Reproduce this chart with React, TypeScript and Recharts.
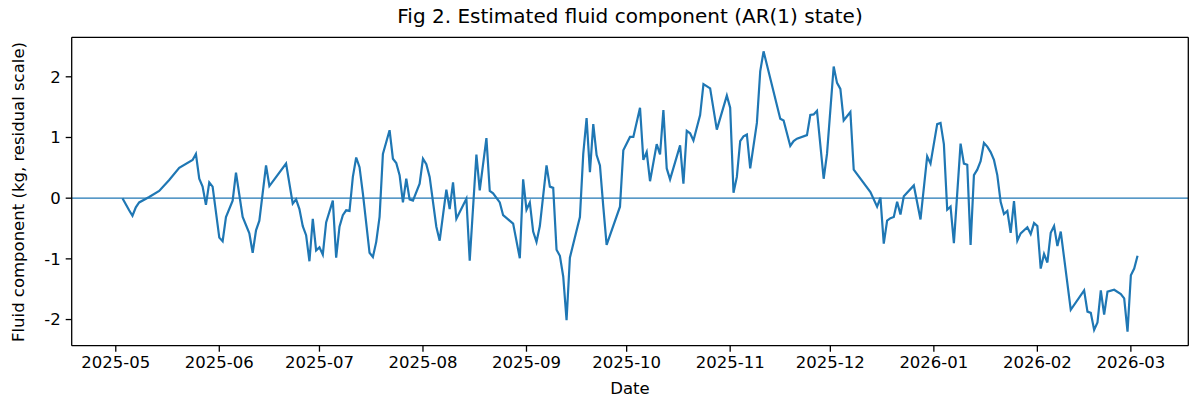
import React from 'react'
import { LineChart, Line, XAxis, YAxis, ReferenceLine } from 'recharts'

const dates = [
  '2025-05-03', '2025-05-05', '2025-05-06', '2025-05-07', '2025-05-08', '2025-05-11', '2025-05-14', '2025-05-17',
  '2025-05-20', '2025-05-24', '2025-05-25', '2025-05-26', '2025-05-27', '2025-05-28', '2025-05-29', '2025-05-30',
  '2025-06-01', '2025-06-02', '2025-06-03', '2025-06-05', '2025-06-06', '2025-06-08', '2025-06-10', '2025-06-11',
  '2025-06-12', '2025-06-13', '2025-06-15', '2025-06-16', '2025-06-21', '2025-06-23', '2025-06-24', '2025-06-25',
  '2025-06-26', '2025-06-27', '2025-06-28', '2025-06-29', '2025-06-30', '2025-07-01', '2025-07-02', '2025-07-03',
  '2025-07-05', '2025-07-06', '2025-07-07', '2025-07-08', '2025-07-09', '2025-07-10', '2025-07-11', '2025-07-12',
  '2025-07-13', '2025-07-14', '2025-07-16', '2025-07-17', '2025-07-18', '2025-07-19', '2025-07-20', '2025-07-22',
  '2025-07-23', '2025-07-24', '2025-07-25', '2025-07-26', '2025-07-27', '2025-07-28', '2025-07-29', '2025-07-31',
  '2025-08-01', '2025-08-02', '2025-08-03', '2025-08-05', '2025-08-06', '2025-08-08', '2025-08-09', '2025-08-10',
  '2025-08-11', '2025-08-14', '2025-08-15', '2025-08-17', '2025-08-18', '2025-08-20', '2025-08-21', '2025-08-22',
  '2025-08-24', '2025-08-25', '2025-08-28', '2025-08-30', '2025-08-31', '2025-09-01', '2025-09-02', '2025-09-03',
  '2025-09-04', '2025-09-05', '2025-09-07', '2025-09-08', '2025-09-09', '2025-09-10', '2025-09-11', '2025-09-12',
  '2025-09-13', '2025-09-14', '2025-09-17', '2025-09-18', '2025-09-19', '2025-09-20', '2025-09-21', '2025-09-22',
  '2025-09-23', '2025-09-24', '2025-09-25', '2025-09-29', '2025-09-30', '2025-10-02', '2025-10-03', '2025-10-05',
  '2025-10-06', '2025-10-07', '2025-10-08', '2025-10-10', '2025-10-11', '2025-10-12', '2025-10-13', '2025-10-14',
  '2025-10-17', '2025-10-18', '2025-10-19', '2025-10-20', '2025-10-21', '2025-10-23', '2025-10-24', '2025-10-26',
  '2025-10-28', '2025-10-31', '2025-11-01', '2025-11-02', '2025-11-03', '2025-11-04', '2025-11-05', '2025-11-06',
  '2025-11-07', '2025-11-09', '2025-11-10', '2025-11-11', '2025-11-16', '2025-11-17', '2025-11-19', '2025-11-20',
  '2025-11-21', '2025-11-24', '2025-11-25', '2025-11-26', '2025-11-27', '2025-11-29', '2025-11-30', '2025-12-02',
  '2025-12-03', '2025-12-04', '2025-12-05', '2025-12-07', '2025-12-08', '2025-12-13', '2025-12-15', '2025-12-16',
  '2025-12-17', '2025-12-18', '2025-12-19', '2025-12-20', '2025-12-21', '2025-12-22', '2025-12-23', '2025-12-26',
  '2025-12-28', '2025-12-30', '2025-12-31', '2026-01-02', '2026-01-03', '2026-01-04', '2026-01-05', '2026-01-06',
  '2026-01-07', '2026-01-09', '2026-01-10', '2026-01-11', '2026-01-12', '2026-01-13', '2026-01-14', '2026-01-15',
  '2026-01-16', '2026-01-17', '2026-01-18', '2026-01-19', '2026-01-20', '2026-01-21', '2026-01-22', '2026-01-23',
  '2026-01-24', '2026-01-25', '2026-01-26', '2026-01-27', '2026-01-29', '2026-01-30', '2026-01-31', '2026-02-01',
  '2026-02-02', '2026-02-03', '2026-02-04', '2026-02-05', '2026-02-06', '2026-02-07', '2026-02-08', '2026-02-11',
  '2026-02-15', '2026-02-16', '2026-02-17', '2026-02-18', '2026-02-19', '2026-02-20', '2026-02-21', '2026-02-22',
  '2026-02-24', '2026-02-26', '2026-02-27', '2026-02-28', '2026-03-01', '2026-03-02', '2026-03-03',
]

const fluid = [
  0.0, -0.2, -0.29, -0.15, -0.07, 0.02, 0.12, 0.3,
  0.5, 0.63, 0.73, 0.32, 0.19, -0.11, 0.26, 0.19,
  -0.65, -0.71, -0.31, -0.04, 0.42, -0.31, -0.58, -0.9,
  -0.53, -0.37, 0.54, 0.2, 0.57, -0.09, -0.02, -0.18,
  -0.46, -0.61, -1.04, -0.34, -0.86, -0.81, -0.93, -0.4,
  -0.04, -0.98, -0.47, -0.28, -0.2, -0.21, 0.35, 0.67,
  0.51, 0.08, -0.9, -0.97, -0.72, -0.31, 0.73, 1.12,
  0.65, 0.58, 0.38, -0.07, 0.32, -0.02, -0.04, 0.24,
  0.65, 0.56, 0.35, -0.47, -0.7, 0.14, -0.18, 0.26,
  -0.34, -0.01, -1.03, 0.72, 0.13, 0.99, 0.12, 0.08,
  -0.07, -0.28, -0.42, -0.99, 0.31, -0.19, -0.07, -0.55,
  -0.72, -0.46, 0.54, 0.19, 0.17, -0.85, -0.95, -1.29,
  -2.01, -0.98, -0.31, 0.73, 1.32, 0.43, 1.22, 0.71,
  0.54, -0.14, -0.77, -0.14, 0.79, 1.01, 1.01, 1.49,
  0.63, 0.76, 0.28, 0.89, 0.72, 1.45, 0.49, 0.31,
  0.87, 0.24, 1.11, 1.07, 0.95, 1.37, 1.88, 1.81,
  1.13, 1.69, 1.49, 0.09, 0.35, 0.94, 1.02, 1.05,
  0.49, 1.24, 2.09, 2.42, 1.31, 1.28, 0.86, 0.94,
  0.98, 1.04, 1.37, 1.38, 1.44, 0.32, 0.73, 2.17,
  1.9, 1.8, 1.28, 1.42, 0.47, 0.1, -0.14, 0.01,
  -0.75, -0.37, -0.33, -0.31, -0.06, -0.27, 0.03, 0.21,
  -0.35, 0.69, 0.57, 1.22, 1.24, 0.89, -0.19, -0.14,
  -0.74, 0.9, 0.57, 0.55, -0.77, 0.38, 0.47, 0.61,
  0.91, 0.85, 0.76, 0.63, 0.38, -0.06, -0.26, -0.21,
  -0.57, -0.05, -0.7, -0.58, -0.48, -0.59, -0.41, -0.46,
  -1.16, -0.92, -1.06, -0.57, -0.46, -0.79, -0.55, -1.84,
  -1.52, -1.87, -1.89, -2.17, -2.05, -1.52, -1.92, -1.54,
  -1.51, -1.58, -1.65, -2.2, -1.27, -1.16, -0.95,
]

const monthTicks = [
  '2025-05-01', '2025-06-01', '2025-07-01', '2025-08-01', '2025-09-01', '2025-10-01',
  '2025-11-01', '2025-12-01', '2026-01-01', '2026-02-01', '2026-03-01',
]

const yTicks = [-2, -1, 0, 1, 2]

const data = dates.map((d, i) => ({ t: Date.parse(d), v: fluid[i] }))
const xTicks = monthTicks.map((d) => Date.parse(d))

// matplotlib-style 5% margins on both axes
const pad = (lo: number, hi: number): [number, number] => {
  const r = hi - lo
  return [lo - r * 0.05, hi + r * 0.05]
}
const xDomain = pad(data[0].t, data[data.length - 1].t)
const yDomain = pad(Math.min(...fluid), Math.max(...fluid))

const fmtMonth = (t: number) => {
  const d = new Date(t)
  return `${d.getUTCFullYear()}-${String(d.getUTCMonth() + 1).padStart(2, '0')}`
}

const font = '"DejaVu Sans", sans-serif'
const tickStyle = { fontSize: 16.5, fill: '#000', fontFamily: font }
const axisColor = { stroke: '#000', strokeWidth: 1.3 }

export default function App() {
  return (
    <div style={{ position: 'absolute', left: 0, top: 0, width: 1200, height: 411, background: '#fff', fontFamily: font }}>
      <div style={{ position: 'absolute', left: 630, top: 16, transform: 'translate(-50%, -50%)', fontSize: 20, whiteSpace: 'nowrap', lineHeight: 1 }}>
        Fig 2. Estimated fluid component (AR(1) state)
      </div>
      <div style={{ position: 'absolute', left: 630, top: 389, transform: 'translate(-50%, -50%)', fontSize: 16.5, lineHeight: 1 }}>
        Date
      </div>
      <div style={{ position: 'absolute', left: 19, top: 191.5, transform: 'translate(-50%, -50%) rotate(-90deg)', fontSize: 16.5, whiteSpace: 'nowrap', lineHeight: 1 }}>
        Fluid component (kg, residual scale)
      </div>

      <LineChart width={1200} height={411} data={data} margin={{ top: 37.3, right: 11.7, bottom: 35.3, left: 11.7 }}>
        <XAxis
          dataKey="t"
          type="number"
          scale="linear"
          domain={xDomain}
          ticks={xTicks}
          tickFormatter={fmtMonth}
          height={30}
          tick={tickStyle}
          tickSize={6}
          tickMargin={5}
          axisLine={axisColor}
          tickLine={axisColor}
          interval={0}
          allowDataOverflow
        />
        <YAxis
          type="number"
          domain={yDomain}
          ticks={yTicks}
          width={60}
          tick={tickStyle}
          tickSize={6}
          tickMargin={5}
          axisLine={axisColor}
          tickLine={axisColor}
          interval={0}
          allowDataOverflow
        />
        <ReferenceLine y={0} stroke="#1f77b4" strokeWidth={1.3} />
        <Line
          type="linear"
          dataKey="v"
          stroke="#1f77b4"
          strokeWidth={2.2}
          dot={false}
          isAnimationActive={false}
        />
        {/* top and right spines of the axes box */}
        <ReferenceLine y={yDomain[1]} stroke="#000" strokeWidth={1.3} ifOverflow="visible" />
        <ReferenceLine x={xDomain[1]} stroke="#000" strokeWidth={1.3} ifOverflow="visible" />
      </LineChart>
    </div>
  )
}
